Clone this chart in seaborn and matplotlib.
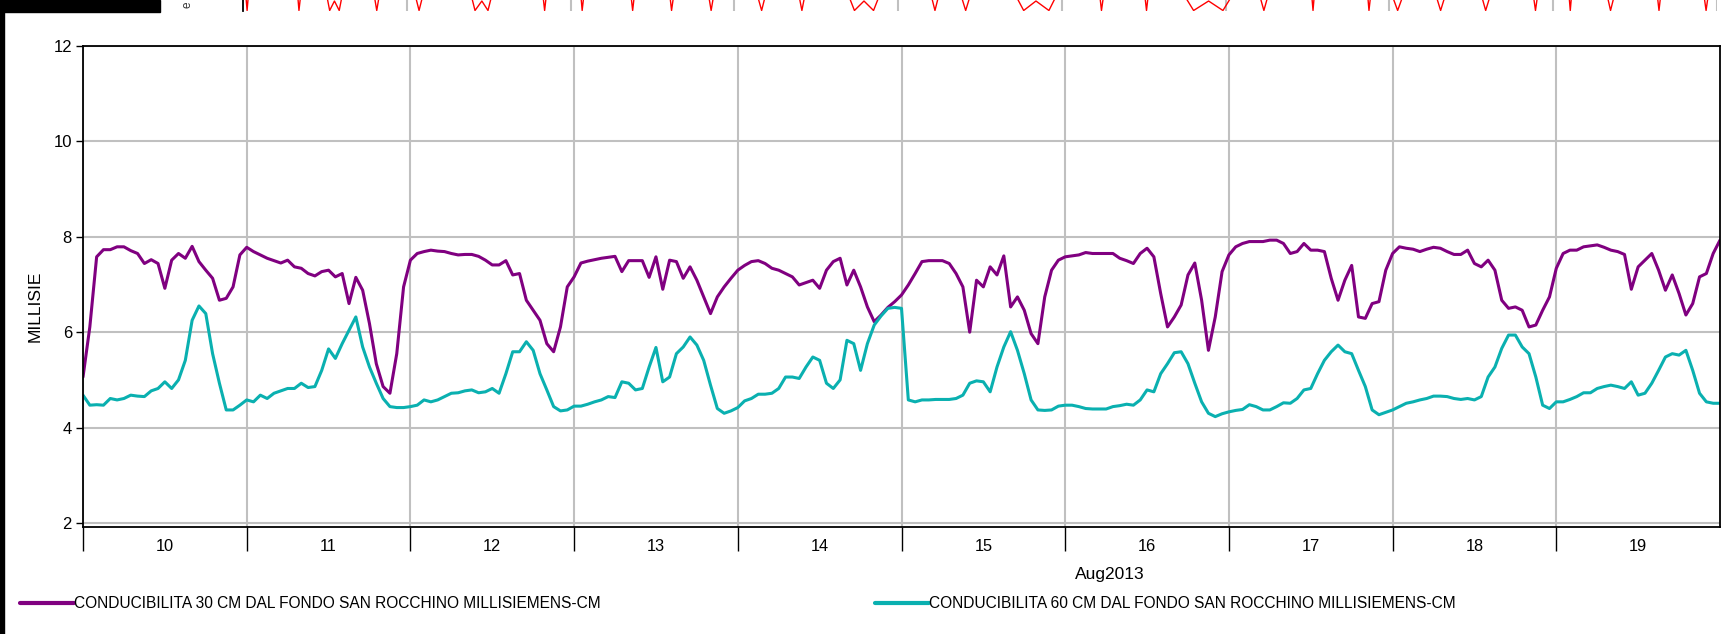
import matplotlib
matplotlib.use("Agg")
import matplotlib.pyplot as plt
import matplotlib.dates as mdates
from matplotlib.patches import Rectangle
from matplotlib.ticker import FixedLocator, NullFormatter, FixedFormatter
import numpy as np
import pandas as pd
import seaborn as sns

# ---- hourly readings, 10 Aug 2013 00:00 -> 20 Aug 2013 00:00 ----
start = "2013-08-10 00:00"
n_hours = 241

cond_30cm = [
    5.06, 6.11, 7.58, 7.73, 7.73, 7.79, 7.79, 7.71, 7.65, 7.44, 7.52, 7.44,
    6.92, 7.51, 7.65, 7.55, 7.80, 7.48, 7.30, 7.13, 6.67, 6.71, 6.95, 7.62,
    7.78, 7.69, 7.62, 7.55, 7.50, 7.45, 7.51, 7.37, 7.34, 7.23, 7.18, 7.27,
    7.30, 7.16, 7.23, 6.60, 7.15, 6.88, 6.18, 5.34, 4.86, 4.72, 5.55, 6.95,
    7.51, 7.65, 7.69, 7.72, 7.70, 7.69, 7.65, 7.62, 7.63, 7.63, 7.59, 7.51,
    7.41, 7.41, 7.50, 7.20, 7.23, 6.67, 6.46, 6.25, 5.76, 5.59, 6.11, 6.95,
    7.16, 7.45, 7.49, 7.52, 7.55, 7.57, 7.59, 7.27, 7.50, 7.50, 7.50, 7.15,
    7.58, 6.90, 7.51, 7.48, 7.13, 7.37, 7.09, 6.74, 6.39, 6.74, 6.95, 7.13,
    7.30, 7.40, 7.48, 7.50, 7.44, 7.34, 7.30, 7.23, 7.16, 6.99, 7.04, 7.09,
    6.92, 7.30, 7.48, 7.55, 6.99, 7.30, 6.95, 6.53, 6.22, 6.36, 6.52, 6.64,
    6.78, 6.99, 7.23, 7.48, 7.50, 7.50, 7.50, 7.44, 7.23, 6.95, 6.00, 7.09,
    6.95, 7.37, 7.20, 7.60, 6.53, 6.74, 6.46, 5.97, 5.76, 6.74, 7.30, 7.51,
    7.58, 7.60, 7.62, 7.67, 7.65, 7.65, 7.65, 7.65, 7.55, 7.50, 7.44, 7.65,
    7.76, 7.58, 6.81, 6.11, 6.32, 6.57, 7.20, 7.45, 6.67, 5.62, 6.32, 7.27,
    7.62, 7.79, 7.86, 7.90, 7.90, 7.90, 7.93, 7.93, 7.86, 7.65, 7.69, 7.86,
    7.72, 7.72, 7.69, 7.13, 6.67, 7.09, 7.40, 6.32, 6.29, 6.60, 6.64, 7.30,
    7.65, 7.79, 7.76, 7.74, 7.69, 7.74, 7.78, 7.76, 7.69, 7.63, 7.63, 7.72,
    7.44, 7.37, 7.51, 7.30, 6.67, 6.50, 6.53, 6.46, 6.11, 6.15, 6.46, 6.74,
    7.34, 7.65, 7.72, 7.72, 7.79, 7.81, 7.83, 7.78, 7.72, 7.69, 7.63, 6.90,
    7.37, 7.51, 7.65, 7.30, 6.88, 7.20, 6.81, 6.36, 6.60, 7.16, 7.23, 7.65,
    7.93,
]

cond_60cm = [
    4.68, 4.47, 4.48, 4.47, 4.61, 4.58, 4.61, 4.68, 4.66, 4.65, 4.77, 4.82,
    4.96, 4.82, 5.00, 5.41, 6.25, 6.55, 6.39, 5.55, 4.93, 4.37, 4.37, 4.47,
    4.58, 4.54, 4.68, 4.61, 4.72, 4.77, 4.82, 4.82, 4.93, 4.84, 4.86, 5.20,
    5.65, 5.45, 5.76, 6.04, 6.32, 5.69, 5.27, 4.93, 4.61, 4.44, 4.42, 4.42,
    4.44, 4.47, 4.58, 4.54, 4.58, 4.65, 4.72, 4.73, 4.77, 4.79, 4.73, 4.75,
    4.82, 4.72, 5.13, 5.59, 5.59, 5.80, 5.62, 5.13, 4.79, 4.44, 4.35, 4.37,
    4.45, 4.45, 4.49, 4.54, 4.58, 4.65, 4.63, 4.96, 4.93, 4.79, 4.82, 5.27,
    5.68, 4.96, 5.06, 5.55, 5.69, 5.90, 5.73, 5.41, 4.89, 4.40, 4.30, 4.35,
    4.42, 4.56, 4.61, 4.70, 4.70, 4.72, 4.82, 5.06, 5.06, 5.03, 5.27, 5.48,
    5.41, 4.93, 4.82, 5.00, 5.83, 5.76, 5.20, 5.76, 6.15, 6.34, 6.50, 6.52,
    6.50, 4.58, 4.54, 4.58, 4.58, 4.59, 4.59, 4.59, 4.61, 4.68, 4.93, 4.98,
    4.96, 4.75, 5.27, 5.69, 6.01, 5.62, 5.13, 4.58, 4.37, 4.36, 4.37, 4.45,
    4.47, 4.47, 4.44, 4.40, 4.39, 4.39, 4.39, 4.44, 4.46, 4.49, 4.47, 4.58,
    4.79, 4.75, 5.13, 5.34, 5.57, 5.59, 5.34, 4.93, 4.54, 4.30, 4.23, 4.29,
    4.33, 4.36, 4.38, 4.48, 4.44, 4.37, 4.37, 4.44, 4.52, 4.51, 4.61, 4.79,
    4.82, 5.13, 5.41, 5.59, 5.73, 5.59, 5.55, 5.20, 4.86, 4.37, 4.27, 4.32,
    4.37, 4.44, 4.51, 4.54, 4.58, 4.61, 4.66, 4.66, 4.65, 4.61, 4.59, 4.61,
    4.58, 4.65, 5.06, 5.27, 5.66, 5.94, 5.94, 5.69, 5.55, 5.06, 4.47, 4.40,
    4.54, 4.54, 4.59, 4.65, 4.73, 4.73, 4.82, 4.86, 4.89, 4.86, 4.82, 4.96,
    4.68, 4.72, 4.93, 5.20, 5.48, 5.55, 5.52, 5.62, 5.20, 4.72, 4.54, 4.51,
    4.51,
]

series_names = [
    "CONDUCIBILITA 30 CM DAL FONDO SAN ROCCHINO MILLISIEMENS-CM",
    "CONDUCIBILITA 60 CM DAL FONDO SAN ROCCHINO MILLISIEMENS-CM",
]
series_colors = ["#800080", "#0AB0B0"]
day_labels = ["10", "11", "12", "13", "14", "15", "16", "17", "18", "19"]
y_ticks = [2, 4, 6, 8, 10, 12]
y_label = "MILLISIE"
period_label = "Aug2013"

# bottom edge of the panel above (hours from its left edge, value)
upper_hours = [
    0.0, 0.3, 0.6, 0.9, 7.9, 8.2, 8.6, 12.0, 12.7, 13.4, 14.1, 14.8,
    19.0, 19.6, 20.2, 24.9, 25.8, 26.7, 33.1, 34.0, 35.0, 35.9, 36.8,
    43.8, 44.2, 44.6, 49.4, 49.7, 50.1, 56.7, 57.1, 57.5, 62.4, 62.8, 63.3,
    68.0, 68.6, 69.2, 75.0, 76.0, 76.9, 81.2, 81.9, 82.6,
    88.2, 89.6, 91.0, 92.4, 93.8, 100.5, 101.4, 102.3, 104.8, 105.9, 107.0,
    112.5, 114.4, 116.2, 118.1, 119.9, 125.4, 125.8, 126.3, 132.0, 132.4, 132.8,
    137.1, 139.3, 141.5, 143.6, 145.8, 148.6, 149.6, 150.6, 156.5, 156.8, 157.1,
    164.7, 165.0, 165.4, 167.9, 169.2, 170.5, 174.4, 175.5, 176.6,
    181.1, 182.1, 183.2, 188.9, 189.4, 189.9, 194.2, 194.5, 194.8,
    199.6, 200.4, 201.3, 207.1, 207.5, 207.9, 213.9, 214.4, 214.9, 216.0,
]
upper_vals = [
    2.5, 2.5, 0.05, 2.5, 2.5, 0.05, 2.5, 2.5, 0.05, 1.0, 0.05, 2.5,
    2.5, 0.05, 2.5, 2.5, 0.05, 2.5, 2.5, 0.05, 1.0, 0.05, 2.5,
    2.5, 0.05, 2.5, 2.5, 0.05, 2.5, 2.5, 0.05, 2.5, 2.5, 0.05, 2.5,
    2.5, 0.05, 2.5, 2.5, 0.05, 2.5, 2.5, 0.05, 2.5,
    2.5, 0.05, 1.0, 0.05, 2.5, 2.5, 0.05, 2.5, 2.5, 0.05, 2.5,
    2.5, 0.05, 1.0, 0.05, 2.5, 2.5, 0.05, 2.5, 2.5, 0.05, 2.5,
    2.5, 0.05, 1.0, 0.05, 2.5, 2.5, 0.05, 2.5, 2.5, 0.05, 2.5,
    2.5, 0.05, 2.5, 2.5, 0.05, 2.5, 2.5, 0.05, 2.5,
    2.5, 0.05, 2.5, 2.5, 0.05, 2.5, 2.5, 0.05, 2.5,
    2.5, 0.05, 2.5, 2.5, 0.05, 2.5, 2.5, 0.05, 2.5, 2.5,
]

# ---- style ----
sns.set_theme(style="ticks")
plt.rcParams["font.family"] = ["Liberation Sans", "DejaVu Sans"]
for key in ("text.color", "axes.labelcolor", "xtick.color", "ytick.color",
            "axes.edgecolor"):
    plt.rcParams[key] = "black"

W, H = 1726, 634
fig = plt.figure(figsize=(W / 100, H / 100), dpi=100)
fig.patch.set_facecolor("white")


def fx(px):
    return px / W


def fy(py):
    return 1 - py / H


# ---- main panel ----
ax_l, ax_r, ax_t, ax_b = 83, 1720, 46, 527
ax = fig.add_axes([fx(ax_l), fy(ax_b), fx(ax_r - ax_l), (ax_b - ax_t) / H])

times = pd.date_range(start, periods=n_hours, freq="h")
df = pd.DataFrame({
    "time": np.concatenate([times, times]),
    "value": cond_30cm + cond_60cm,
    "series": [series_names[0]] * n_hours + [series_names[1]] * n_hours,
})
sns.lineplot(data=df, x="time", y="value", hue="series",
             hue_order=series_names, palette=series_colors,
             linewidth=2.2, ax=ax, legend=True)

handles, labels = ax.get_legend_handles_labels()
ax.get_legend().remove()

x0 = pd.Timestamp("2013-08-10")
x1 = pd.Timestamp("2013-08-20")
ax.set_xlim(x0, x1)
ax.set_ylim(1.916, 12)

day_starts = mdates.date2num(pd.date_range(x0, periods=10, freq="D"))
day_mids = day_starts + 0.5
ax.xaxis.set_major_locator(FixedLocator(day_starts))
ax.xaxis.set_major_formatter(NullFormatter())
ax.xaxis.set_minor_locator(FixedLocator(day_mids))
ax.xaxis.set_minor_formatter(FixedFormatter(day_labels))
ax.tick_params(axis="x", which="major", direction="out", length=17,
               width=1.0, color="black", bottom=True)
ax.tick_params(axis="x", which="minor", length=0, pad=8.5, labelsize=11.8,
               bottom=True)
ax.set_yticks(y_ticks)
ax.set_yticklabels([str(v) for v in y_ticks])
ax.tick_params(axis="y", direction="out", length=5, width=1.0, pad=3,
               labelsize=12, left=True)

ax.grid(True, which="major", color="#C0C0C0", linewidth=1.5)
ax.set_axisbelow(True)
for s in ax.spines.values():
    s.set_visible(True)
    s.set_color("black")
    s.set_linewidth(1.3)
ax.set_xlabel("")
ax.set_ylabel("")

fig.text(fx(35), fy(306), y_label, rotation=90, ha="center", va="center",
         fontsize=12.5)
fig.text(fx(1110), fy(575), period_label, ha="center", va="center",
         fontsize=12.5)

leg = fig.legend(handles, labels, loc="center left",
                 bbox_to_anchor=(fx(20), fy(604)), ncol=2, frameon=False,
                 handlelength=3.5, handletextpad=0.0, columnspacing=17.6,
                 borderpad=0, borderaxespad=0, fontsize=11.2)
for h in leg.get_lines():
    h.set_linewidth(3)

# ---- strip of the panel above ----
ax_up = fig.add_axes([fx(243), fy(11), fx(1717 - 243), 0.2])
ax_up.plot(upper_hours, upper_vals, color="#FF0000", linewidth=1.0)
ax_up.set_xlim(0, 216)
ax_up.set_ylim(0, 12.7)
ax_up.set_xticks([24 * k for k in range(1, 10)])
ax_up.set_yticks([])
ax_up.tick_params(axis="x", length=0, labelbottom=False)
ax_up.grid(True, axis="x", color="#C0C0C0", linewidth=1.5)
ax_up.grid(False, axis="y")
ax_up.patch.set_alpha(0)
for name, s in ax_up.spines.items():
    s.set_visible(name == "left")
ax_up.spines["left"].set_color("black")
ax_up.spines["left"].set_linewidth(1.3)
fig.text(fx(187), fy(5), "e", rotation=90, ha="center", va="center",
         fontsize=8.5, color="#333333")

# dark frame pieces along the top-left border
fig.add_artist(Rectangle((0, fy(12)), fx(160), 12 / H,
                         transform=fig.transFigure, color="black", zorder=10))
fig.add_artist(Rectangle((0, 0), fx(4), 1, transform=fig.transFigure,
                         color="black", zorder=10))

fig.savefig("out.png", dpi=100, facecolor="white")
